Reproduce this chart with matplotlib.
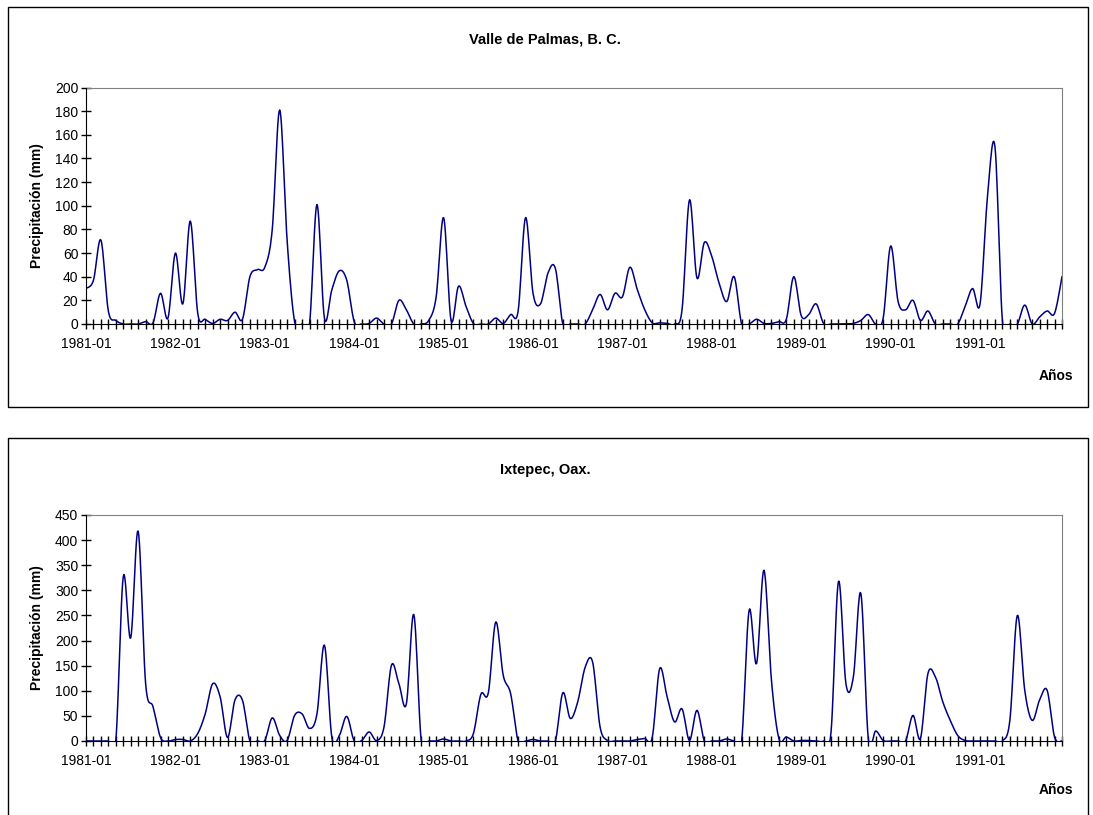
import numpy as np
import matplotlib
matplotlib.use('Agg')
from matplotlib import pyplot as plt
from matplotlib.patches import Rectangle

#==============================================================================
# data (monthly precipitation, mm), 1981-01 .. 1991-12

lis_year = list(range(1981, 1992))
lis_month = ['%d-%02d' % (y, m) for y in lis_year for m in range(1, 13)]

valle_1981 = [30, 37, 71, 11, 3, 0, 0, 0, 2, 1, 26, 5]
valle_1982 = [60, 17, 87, 9, 4, 0.5, 4, 3, 10, 4, 40, 46]
valle_1983 = [48, 80, 181, 70, 2, 0, 0, 101, 5, 29, 45, 37]
valle_1984 = [2, 0, 0.5, 5, 0, 0, 20, 12, 0, 0, 3, 23]
valle_1985 = [90, 3, 32, 15, 0.5, 0, 0, 5, 0.5, 8, 11, 90]
valle_1986 = [26, 17, 43, 47, 0, 0, 0, 0, 12, 25, 12, 26]
valle_1987 = [23, 48, 29, 12, 1, 1, 0.5, 0, 12, 105, 39, 69]
valle_1988 = [57, 34, 19, 40, 0, 0, 4, 0.5, 0.5, 2, 4, 40]
valle_1989 = [7, 8, 17, 0.5, 0, 0, 0, 0.5, 3, 8, 0, 5]
valle_1990 = [66, 19, 12, 20, 3, 11, 0, 0, 0, 0, 15, 30]
valle_1991 = [17, 108, 150, 3, 0, 0, 16, 0, 6, 11, 9, 40]

ixt_1981 = [0, 0, 0, 0, 0, 327, 205, 418, 115, 68, 7, 0]
ixt_1982 = [3, 3, 0, 15, 54, 114, 88, 7, 82, 81, 0, 0]
ixt_1983 = [1, 46, 11, 1, 51, 54, 25, 54, 191, 7, 11, 49]
ixt_1984 = [0, 1, 18, 1, 28, 151, 114, 74, 252, 0, 0, 0]
ixt_1985 = [4, 0, 0, 0, 15, 93, 96, 237, 131, 94, 0, 0]
ixt_1986 = [3, 0, 0, 0, 96, 45, 78, 147, 157, 28, 1, 0]
ixt_1987 = [0, 0, 3, 5, 7, 144, 88, 38, 64, 1, 61, 0]
ixt_1988 = [0, 0, 4, 0, 0, 260, 154, 340, 121, 5, 8, 0]
ixt_1989 = [1, 1, 0, 0, 18, 318, 114, 128, 294, 5, 20, 1]
ixt_1990 = [0, 0, 0, 51, 5, 134, 128, 78, 41, 11, 1, 0]
ixt_1991 = [0, 0, 0, 0, 41, 250, 101, 41, 82, 101, 8, 0]

v_valle = np.array(valle_1981 + valle_1982 + valle_1983 + valle_1984 + valle_1985 +
                   valle_1986 + valle_1987 + valle_1988 + valle_1989 + valle_1990 + valle_1991, dtype=float)
v_ixt = np.array(ixt_1981 + ixt_1982 + ixt_1983 + ixt_1984 + ixt_1985 +
                 ixt_1986 + ixt_1987 + ixt_1988 + ixt_1989 + ixt_1990 + ixt_1991, dtype=float)

lis_title = ['Valle de Palmas, B. C.', 'Ixtepec, Oax.']
lis_ymax = [200, 450]
lis_ystep = [20, 50]

#==============================================================================

def smooth_line(y, n_seg=12):
    # excel style smoothed line (bezier through points, catmull-rom handles)
    n = len(y)
    x = np.arange(n, dtype=float)
    xs, ys = [], []
    t = np.linspace(0, 1, n_seg, endpoint=False)
    for i in range(n - 1):
        i0 = max(i - 1, 0)
        i3 = min(i + 2, n - 1)
        p0 = np.array([x[i], y[i]])
        p3 = np.array([x[i+1], y[i+1]])
        p1 = p0 + (np.array([x[i+1], y[i+1]]) - np.array([x[i0], y[i0]])) / 6.0
        p2 = p3 - (np.array([x[i3], y[i3]]) - np.array([x[i], y[i]])) / 6.0
        b = ((1-t)**3)[:, None]*p0 + (3*(1-t)**2*t)[:, None]*p1 + \
            (3*(1-t)*t**2)[:, None]*p2 + (t**3)[:, None]*p3
        xs.extend(b[:, 0])
        ys.extend(b[:, 1])
    xs.append(x[-1])
    ys.append(y[-1])
    return np.array(xs), np.array(ys)


plt.rcParams['font.family'] = ['Liberation Sans', 'DejaVu Sans']

fig = plt.figure(figsize=(10.93, 8.15), dpi=100)

# outer chart boxes
fig.patches.append(Rectangle((8/1093, 1-407/815), 1080/1093, 400/815, transform=fig.transFigure,
                             fill=False, edgecolor='black', linewidth=1.0))
fig.patches.append(Rectangle((8/1093, -0.01), 1080/1093, 1-438/815+0.01, transform=fig.transFigure,
                             fill=False, edgecolor='black', linewidth=1.0))

lis_ax_pos = [[86/1093, 1-324/815, 976/1093, 236.5/815],
              [86/1093, 1-741/815, 976/1093, 226/815]]
lis_title_y = [40, 470]
lis_xlab_y = [376, 790]

for k, v_data in enumerate([v_valle, v_ixt]):
    ax = fig.add_axes(lis_ax_pos[k])
    xs, ys = smooth_line(v_data)
    ax.plot(xs, ys, color='#000080', linewidth=1.1)

    n_month = len(v_data)
    ax.set_xlim(0, n_month - 1)
    ax.set_ylim(0, lis_ymax[k])
    ax.set_yticks(np.arange(0, lis_ymax[k] + 1, lis_ystep[k]))

    lis_xtick_lab = [m if m.endswith('-01') else '' for m in lis_month]
    ax.set_xticks(np.arange(n_month))
    ax.set_xticklabels(lis_xtick_lab)
    ax.tick_params(axis='both', direction='inout', length=7, width=1, labelsize=10, colors='black')
    ax.tick_params(axis='x', pad=6)
    ax.tick_params(axis='y', pad=2)

    for s in ['top', 'right']:
        ax.spines[s].set_color('#808080')
    for s in ['left', 'bottom']:
        ax.spines[s].set_color('black')
        ax.spines[s].set_zorder(3)

    ax.set_ylabel('Precipitación (mm)', fontsize=10, fontweight='bold', labelpad=8)

    fig.text(545/1093, 1 - lis_title_y[k]/815, lis_title[k], ha='center', va='center',
             fontsize=10.5, fontweight='bold')
    fig.text(1056/1093, 1 - lis_xlab_y[k]/815, 'Años', ha='center', va='center',
             fontsize=10, fontweight='bold')

plt.savefig('out.png', dpi=100)
